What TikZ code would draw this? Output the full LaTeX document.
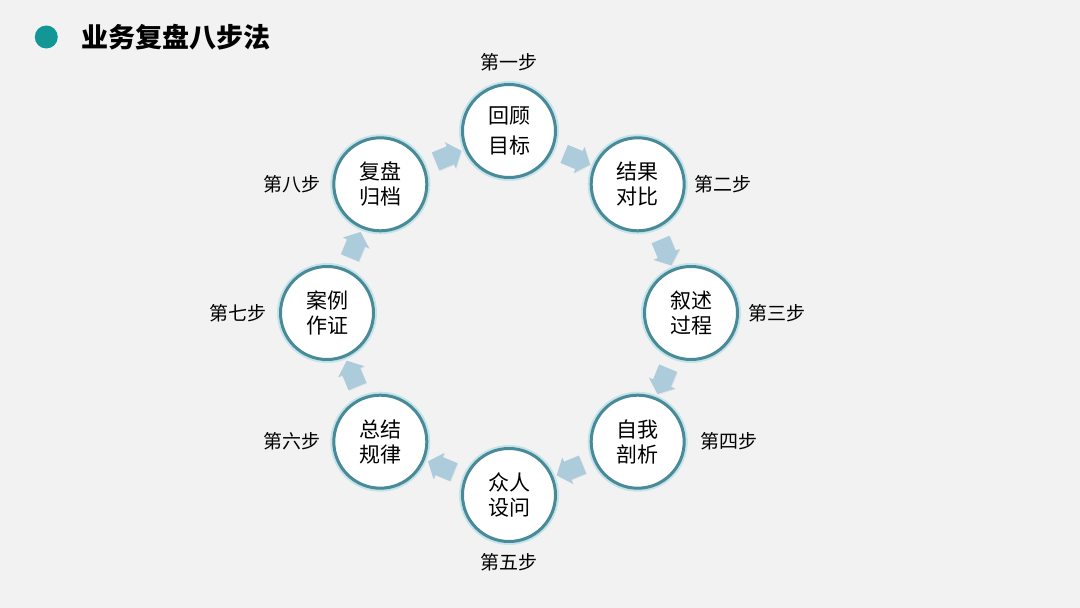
\documentclass[tikz,border=0pt]{standalone}
\usepackage{fontspec}
\setmainfont{Noto Sans CJK SC}
\usetikzlibrary{positioning,shapes.arrows,calc,shadows}
\definecolor{bg}{RGB}{242,242,242}
\definecolor{ring}{RGB}{72,138,152}
\definecolor{glow}{RGB}{196,228,234}
\definecolor{flow}{RGB}{172,204,220}
\definecolor{dot}{RGB}{18,150,150}

\begin{document}
\begin{tikzpicture}[x=1pt,y=1pt,
  st/.style={circle,draw=ring,line width=3pt,fill=white,minimum size=93pt,
             inner sep=0pt,align=center,font=\fontsize{21}{25}\selectfont,
             preaction={draw=glow,line width=7pt},
             drop shadow={opacity=0.15,shadow xshift=1pt,shadow yshift=-1.5pt}},
  lb/.style={inner sep=0pt,font=\fontsize{19}{22}\selectfont},
  ar/.style={single arrow,fill=flow,draw=none,inner sep=9.5pt,minimum height=28pt,
             single arrow head extend=4.5pt,single arrow tip angle=100,rotate=#1,
             drop shadow={opacity=0.12,shadow xshift=0.8pt,shadow yshift=-0.8pt}}]
  \fill[bg] (0,0) rectangle (1080,608);
  % title
  \node[anchor=west,inner sep=0pt,font=\fontsize{27}{30}\selectfont\bfseries] (title) at (81,571) {业务复盘八步法};
  \node[circle,fill=dot,minimum size=23pt,inner sep=0pt,left=23pt of title] (bullet) {};
  % eight steps round a ring
  \coordinate (c) at (509,295);
  \node[st] (s1) at ($(c)+(90:182)$)   {回顾\\[5pt]目标};
  \node[st] (s2) at ($(c)+(45:182)$)   {结果\\对比};
  \node[st] (s3) at ($(c)+(0:182)$)    {叙述\\过程};
  \node[st] (s4) at ($(c)+(-45:182)$)  {自我\\剖析};
  \node[st] (s5) at ($(c)+(-90:182)$)  {众人\\设问};
  \node[st] (s6) at ($(c)+(-135:182)$) {总结\\规律};
  \node[st] (s7) at ($(c)+(180:182)$)  {案例\\作证};
  \node[st] (s8) at ($(c)+(135:182)$)  {复盘\\归档};
  \node[lb,above=12pt of s1] (l1) {第一步};
  \node[lb,right=9pt of s2]  (l2) {第二步};
  \node[lb,right=9pt of s3]  (l3) {第三步};
  \node[lb,right=15pt of s4] (l4) {第四步};
  \node[lb,below=10pt of s5] (l5) {第五步};
  \node[lb,left=12pt of s6]  (l6) {第六步};
  \node[lb,left=12pt of s7]  (l7) {第七步};
  \node[lb,left=12pt of s8]  (l8) {第八步};
  % block arrows between the steps
  \node[ar=-22.5]  (a1) at ($(s1)!0.5!(s2)$) {};
  \node[ar=-67.5]  (a2) at ($(s2)!0.5!(s3)$) {};
  \node[ar=-112.5] (a3) at ($(s3)!0.5!(s4)$) {};
  \node[ar=-157.5] (a4) at ($(s4)!0.5!(s5)$) {};
  \node[ar=157.5]  (a5) at ($(s5)!0.5!(s6)$) {};
  \node[ar=112.5]  (a6) at ($(s6)!0.5!(s7)$) {};
  \node[ar=67.5]   (a7) at ($(s7)!0.5!(s8)$) {};
  \node[ar=22.5]   (a8) at ($(s8)!0.5!(s1)$) {};
  \useasboundingbox (0,0) rectangle (1080,608);
\end{tikzpicture}
\end{document}
